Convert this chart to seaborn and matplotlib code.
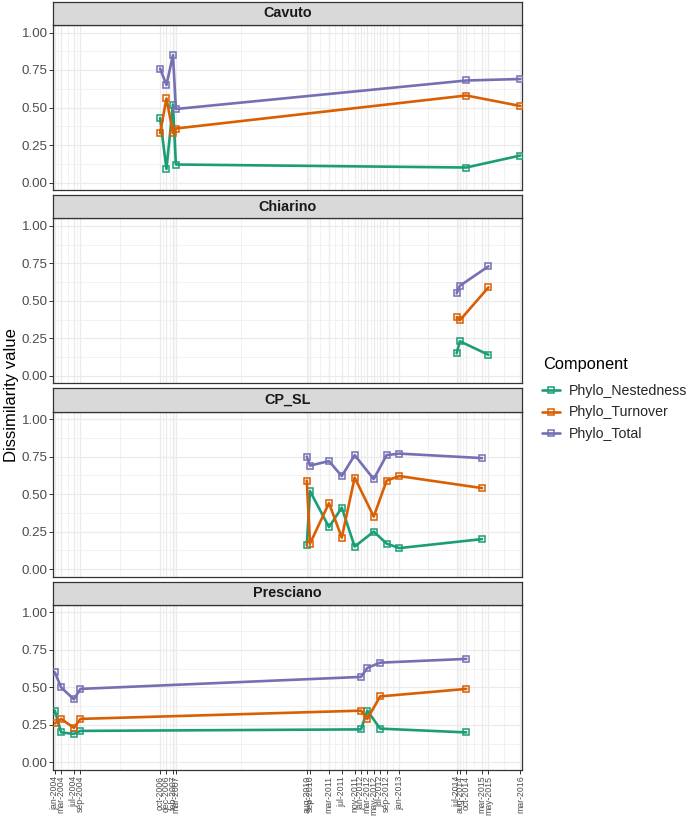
import numpy as np
import pandas as pd
import matplotlib
matplotlib.use("Agg")
import matplotlib.pyplot as plt
import matplotlib.dates as mdates
from matplotlib.lines import Line2D
import seaborn as sns

# ---------------- data ----------------
sites = ["Cavuto", "Chiarino", "CP_SL", "Presciano"]
components = ["Phylo_Nestedness", "Phylo_Turnover", "Phylo_Total"]
colors = ["#1B9E77", "#D95F02", "#7570B3"]

cavuto_dates = ["2006-10", "2006-12", "2007-02", "2007-03", "2014-10", "2016-03"]
cavuto_nested = [0.43, 0.09, 0.52, 0.12, 0.10, 0.18]
cavuto_turnover = [0.33, 0.56, 0.33, 0.36, 0.58, 0.51]
cavuto_total = [0.76, 0.65, 0.85, 0.49, 0.68, 0.69]

chiarino_dates = ["2014-07", "2014-08", "2015-05"]
chiarino_nested = [0.15, 0.23, 0.14]
chiarino_turnover = [0.39, 0.37, 0.59]
chiarino_total = [0.55, 0.60, 0.73]

cpsl_dates = ["2010-08", "2010-09", "2011-03", "2011-07", "2011-11",
              "2012-05", "2012-09", "2013-01", "2015-03"]
cpsl_nested = [0.16, 0.52, 0.28, 0.41, 0.15, 0.25, 0.17, 0.14, 0.20]
cpsl_turnover = [0.59, 0.17, 0.44, 0.21, 0.61, 0.35, 0.59, 0.62, 0.54]
cpsl_total = [0.75, 0.69, 0.72, 0.62, 0.76, 0.60, 0.76, 0.77, 0.74]

presciano_dates = ["2004-01", "2004-03", "2004-07", "2004-09",
                   "2012-01", "2012-03", "2012-07", "2014-10"]
presciano_nested = [0.345, 0.20, 0.19, 0.21, 0.22, 0.345, 0.225, 0.20]
presciano_turnover = [0.26, 0.29, 0.23, 0.29, 0.345, 0.29, 0.44, 0.49]
presciano_total = [0.60, 0.50, 0.42, 0.49, 0.57, 0.63, 0.665, 0.69]

break_labels = ["jan-2004", "mar-2004", "jul-2004", "sep-2004", "oct-2006",
                "dec-2006", "feb-2007", "mar-2007", "aug-2010", "sep-2010",
                "mar-2011", "jul-2011", "nov-2011", "jan-2012", "mar-2012",
                "may-2012", "jul-2012", "sep-2012", "jan-2013", "jul-2014",
                "aug-2014", "oct-2014", "mar-2015", "may-2015", "mar-2016"]
y_ticks = [0.0, 0.25, 0.50, 0.75, 1.00]

site_data = {
    "Cavuto": (cavuto_dates, cavuto_nested, cavuto_turnover, cavuto_total),
    "Chiarino": (chiarino_dates, chiarino_nested, chiarino_turnover, chiarino_total),
    "CP_SL": (cpsl_dates, cpsl_nested, cpsl_turnover, cpsl_total),
    "Presciano": (presciano_dates, presciano_nested, presciano_turnover, presciano_total),
}

rows = []
for s in sites:
    d, n, t, tot = site_data[s]
    for comp, vals in zip(components, (n, t, tot)):
        for di, v in zip(d, vals):
            rows.append({"Site": s, "Date": pd.Timestamp(di + "-01"),
                         "Component": comp, "value": v})
df = pd.DataFrame(rows)

month_map = {"jan": 1, "feb": 2, "mar": 3, "apr": 4, "may": 5, "jun": 6,
             "jul": 7, "aug": 8, "sep": 9, "oct": 10, "nov": 11, "dec": 12}
break_dates = [pd.Timestamp(year=int(l.split("-")[1]), month=month_map[l.split("-")[0]], day=1)
               for l in break_labels]
break_nums = mdates.date2num(break_dates)
minor_nums = (break_nums[:-1] + break_nums[1:]) / 2.0

# ---------------- figure ----------------
sns.set_theme(style="white")
plt.rcParams["font.family"] = ["Liberation Sans", "DejaVu Sans"]

W, H = 692, 817
fig = plt.figure(figsize=(W / 100, H / 100), dpi=100)

left_px, right_px = 53.3, 522.0
step = 193.3
palette = dict(zip(components, colors))

xlo = mdates.date2num(pd.Timestamp("2004-01-01")) - 15
xhi = mdates.date2num(pd.Timestamp("2016-03-01")) + 15

for i, s in enumerate(sites):
    strip_top = 1.7 + step * i
    strip_bot = 25.0 + step * i
    pan_bot = 190.0 + step * i
    ax = fig.add_axes([left_px / W, 1 - pan_bot / H,
                       (right_px - left_px) / W, (pan_bot - strip_bot) / H])
    sax = fig.add_axes([left_px / W, 1 - strip_bot / H,
                        (right_px - left_px) / W, (strip_bot - strip_top) / H])
    sax.set_facecolor("#D9D9D9")
    sax.set_xticks([]); sax.set_yticks([])
    for sp in sax.spines.values():
        sp.set_color("#333333"); sp.set_linewidth(0.9)
    sax.text(0.5, 0.5, s, ha="center", va="center", fontsize=10.4,
             fontweight="bold", color="#1A1A1A", transform=sax.transAxes)

    sub = df[df["Site"] == s]
    sns.lineplot(data=sub, x="Date", y="value", hue="Component",
                 hue_order=components, palette=palette, marker="s",
                 markersize=4.6, linewidth=1.9, ax=ax, legend=False,
                 errorbar=None, zorder=3)
    for ln in ax.lines:
        c = ln.get_color()
        ln.set_markeredgecolor(c)
        ln.set_markerfacecolor("none")
        ln.set_markeredgewidth(1.1)

    ax.set_xlim(xlo, xhi)
    ax.set_ylim(-0.05, 1.05)
    ax.set_yticks(y_ticks)
    ax.set_yticks([0.125, 0.375, 0.625, 0.875], minor=True)
    ax.set_xticks(break_nums)
    ax.set_xticks(minor_nums, minor=True)
    ax.grid(True, which="major", color="#EBEBEB", linewidth=0.9, zorder=0)
    ax.grid(True, which="minor", color="#EFEFEF", linewidth=0.55, zorder=0)
    ax.set_axisbelow(True)
    ax.set_yticklabels(["0.00", "0.25", "0.50", "0.75", "1.00"],
                       fontsize=9.6, color="#4D4D4D")
    ax.tick_params(axis="both", which="major", length=2.7, width=0.7,
                   color="#333333", pad=1.5, left=True, bottom=True)
    ax.tick_params(axis="both", which="minor", length=0, left=False, bottom=False)
    if i == len(sites) - 1:
        ax.set_xticklabels(break_labels, rotation=90, fontsize=6.3,
                           color="#4D4D4D", ha="center", va="top")
    else:
        ax.set_xticklabels([])
        ax.tick_params(axis="x", which="major", length=0)
    ax.set_xlabel("")
    ax.set_ylabel("")
    for sp in ax.spines.values():
        sp.set_color("#333333"); sp.set_linewidth(0.9)

fig.text(12 / W, 1 - 395 / H, "Dissimilarity value", rotation=90,
         ha="center", va="center", fontsize=12, color="black")

# legend
fig.text(543 / W, 1 - 364 / H, "Component", ha="left", va="center",
         fontsize=11.8, color="black")
handles = [Line2D([0], [0], color=c, linewidth=1.9, marker="s", markersize=4.6,
                  markerfacecolor="none", markeredgecolor=c, markeredgewidth=1.1)
           for c in colors]
fig.legend(handles, components, loc="upper left",
           bbox_to_anchor=(536 / W, 1 - 378 / H), frameon=False,
           fontsize=10.2, handlelength=1.3,
           handletextpad=0.6, labelspacing=0.55, borderaxespad=0.0,
           borderpad=0.4)

fig.savefig("out.png", dpi=100)
